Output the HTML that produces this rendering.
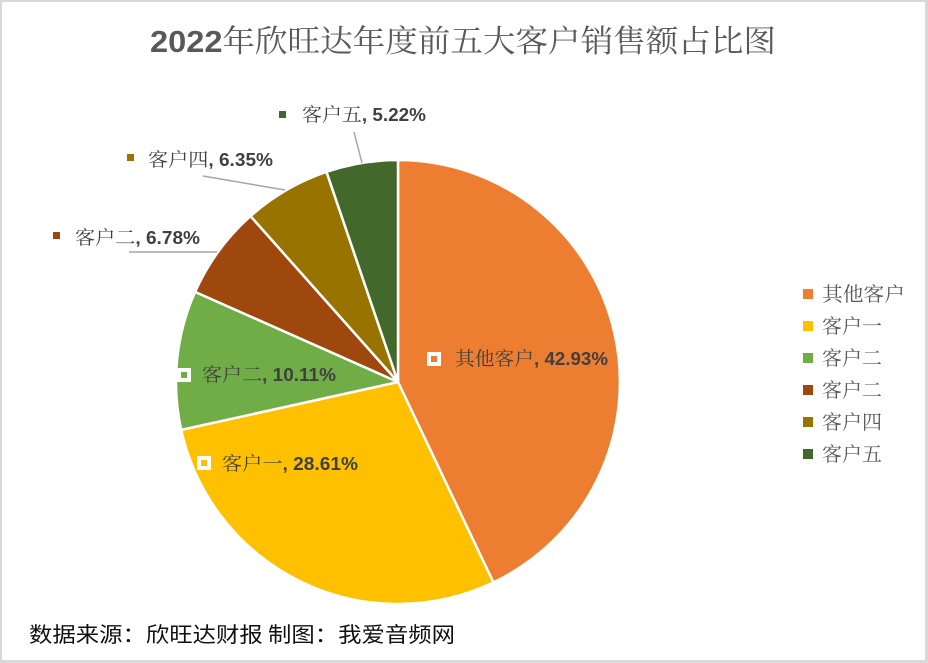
<!DOCTYPE html>
<html>
<head>
<meta charset="utf-8">
<style>
html,body{margin:0;padding:0;background:#fff;}
body{width:928px;height:663px;overflow:hidden;}
svg{display:block;}
.cj{font-family:"Noto Serif CJK SC","Noto Serif CJK",serif;}
.ln{font-family:"Liberation Sans",sans-serif;font-weight:bold;}
.ft{font-family:"Noto Sans CJK SC",sans-serif;}
</style>
</head>
<body>
<svg width="928" height="663" viewBox="0 0 928 663" xmlns="http://www.w3.org/2000/svg">
  <rect x="0" y="0" width="928" height="663" fill="#ffffff"/>
  <!-- border -->
  <rect x="0" y="0" width="928" height="2" fill="#D9D9D9"/>
  <rect x="0" y="0" width="2" height="663" fill="#D9D9D9"/>
  <rect x="925" y="0" width="3" height="663" fill="#D9D9D9"/>
  <rect x="0" y="660" width="928" height="3" fill="#D9D9D9"/>

  <!-- title -->
  <text x="150" y="52" font-size="31" fill="#595959" textLength="626" lengthAdjust="spacingAndGlyphs"><tspan class="ln">2022</tspan><tspan class="cj">年欣旺达年度前五大客户销售额占比图</tspan></text>

  <!-- pie -->
  <g stroke="#ffffff" stroke-width="2.5" stroke-linejoin="round">
    <path d="M398,382 L398,160 A222,222 0 0 1 493.4,582.4 Z" fill="#ED7D31"/>
    <path d="M398,382 L493.4,582.4 A222,222 0 0 1 181.2,429.9 Z" fill="#FFC000"/>
    <path d="M398,382 L181.2,429.9 A222,222 0 0 1 195.1,291.9 Z" fill="#70AD47"/>
    <path d="M398,382 L195.1,291.9 A222,222 0 0 1 250.5,216.1 Z" fill="#9E480E"/>
    <path d="M398,382 L250.5,216.1 A222,222 0 0 1 326.5,171.8 Z" fill="#997300"/>
    <path d="M398,382 L326.5,171.8 A222,222 0 0 1 398,160 Z" fill="#43682B"/>
  </g>

  <!-- leader lines -->
  <g stroke="#A6A6A6" stroke-width="1.5" fill="none">
    <line x1="354" y1="132" x2="362" y2="163"/>
    <line x1="203" y1="176" x2="285" y2="190"/>
    <line x1="129" y1="252" x2="217" y2="252"/>
  </g>

  <!-- inside label markers -->
  <rect x="429" y="354" width="10" height="10" fill="#ED7D31" stroke="#fff" stroke-width="4"/>
  <rect x="199" y="458" width="10" height="10" fill="#FFC000" stroke="#fff" stroke-width="4"/>
  <rect x="179" y="370" width="10" height="10" fill="#70AD47" stroke="#fff" stroke-width="4"/>

  <!-- outside label markers -->
  <rect x="279" y="111" width="7" height="7" fill="#43682B"/>
  <rect x="127" y="154" width="7" height="7" fill="#997300"/>
  <rect x="53" y="232" width="7" height="7" fill="#9E480E"/>

  <!-- data labels -->
  <g font-size="19" fill="#404040">
    <text x="455" y="365" textLength="153" lengthAdjust="spacingAndGlyphs"><tspan class="cj">其他客户</tspan><tspan class="ln" font-size="18">, 42.93%</tspan></text>
    <text x="222" y="470" textLength="136" lengthAdjust="spacingAndGlyphs"><tspan class="cj">客户一</tspan><tspan class="ln" font-size="18">, 28.61%</tspan></text>
    <text x="202" y="381" textLength="134" lengthAdjust="spacingAndGlyphs"><tspan class="cj">客户二</tspan><tspan class="ln" font-size="18">, 10.11%</tspan></text>
    <text x="75" y="244" textLength="125" lengthAdjust="spacingAndGlyphs"><tspan class="cj">客户二</tspan><tspan class="ln" font-size="18">, 6.78%</tspan></text>
    <text x="148" y="166" textLength="125" lengthAdjust="spacingAndGlyphs"><tspan class="cj">客户四</tspan><tspan class="ln" font-size="18">, 6.35%</tspan></text>
    <text x="302" y="121" textLength="124" lengthAdjust="spacingAndGlyphs"><tspan class="cj">客户五</tspan><tspan class="ln" font-size="18">, 5.22%</tspan></text>
  </g>

  <!-- legend -->
  <rect x="803" y="289" width="10" height="10" fill="#ED7D31"/>
  <rect x="803" y="321" width="10" height="10" fill="#FFC000"/>
  <rect x="803" y="353" width="10" height="10" fill="#70AD47"/>
  <rect x="803" y="385" width="10" height="10" fill="#9E480E"/>
  <rect x="803" y="417" width="10" height="10" fill="#997300"/>
  <rect x="803" y="449" width="10" height="10" fill="#43682B"/>
  <g class="cj" font-size="20" fill="#595959">
    <text x="822" y="301" textLength="83" lengthAdjust="spacingAndGlyphs">其他客户</text>
    <text x="822" y="333">客户一</text>
    <text x="822" y="365">客户二</text>
    <text x="822" y="397">客户二</text>
    <text x="822" y="429">客户四</text>
    <text x="822" y="461">客户五</text>
  </g>

  <!-- footer -->
  <text class="ft" x="29" y="642" font-size="21" fill="#111111" textLength="426" lengthAdjust="spacingAndGlyphs">数据来源：欣旺达财报 制图：我爱音频网</text>
</svg>
</body>
</html>
